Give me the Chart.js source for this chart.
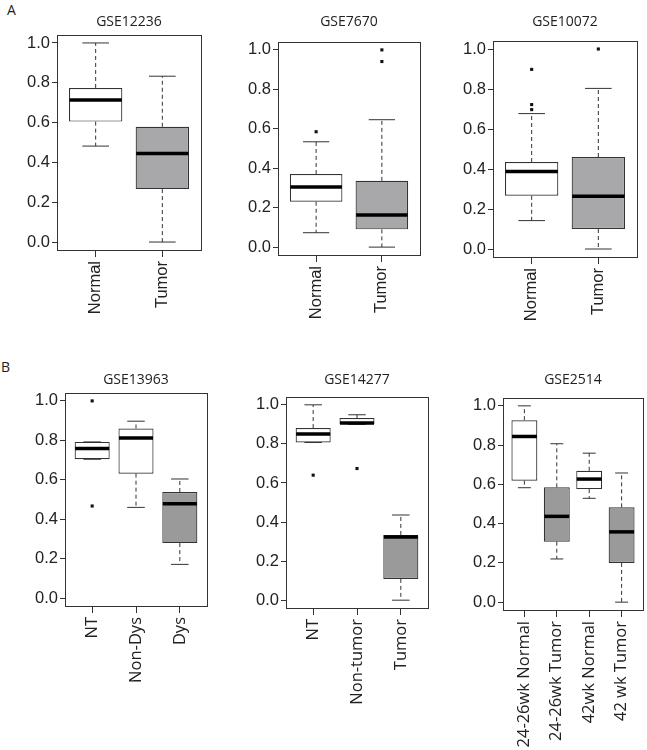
<!DOCTYPE html>
<html>
<head>
<meta charset="utf-8">
<script src="https://cdn.jsdelivr.net/npm/chart.js@4.4.0/dist/chart.umd.min.js"></script>
<style>
    body { margin: 0; background: #fff; }
    #fig { position: relative; width: 647px; height: 750px; overflow: hidden; background: #fff; }
    .panel { position: absolute; }
    .tag { position: absolute; font: 14px 'Open Sans'; line-height: 14px; color: #222; }
</style>
</head>
<body>
<div id="fig">
    <div class="tag" style="left:7px;top:3px">A</div>
    <div class="tag" style="left:1px;top:360px">B</div>
</div>
<script>
// Data (one entry per panel)
const titles = ['GSE12236', 'GSE7670', 'GSE10072', 'GSE13963', 'GSE14277', 'GSE2514'];
const categories = [
    ['Normal', 'Tumor'],
    ['Normal', 'Tumor'],
    ['Normal', 'Tumor'],
    ['NT', 'Non-Dys', 'Dys'],
    ['NT', 'Non-tumor', 'Tumor'],
    ['24-26wk Normal', '24-26wk Tumor', '42wk Normal', '42 wk Tumor']
];
const whiskerLow = [
    [0.482, 0.0], [0.073, 0.0], [0.142, 0.0],
    [0.704, 0.460, 0.171], [0.807, 0.900, 0.0], [0.583, 0.220, 0.529, 0.0]
];
const lowerQuartile = [
    [0.605, 0.266], [0.230, 0.090], [0.266, 0.100],
    [0.704, 0.631, 0.279], [0.807, 0.900, 0.109], [0.619, 0.308, 0.576, 0.200]
];
const medians = [
    [0.714, 0.445], [0.305, 0.163], [0.388, 0.264],
    [0.758, 0.812, 0.479], [0.851, 0.907, 0.324], [0.844, 0.437, 0.627, 0.358]
];
const upperQuartile = [
    [0.774, 0.579], [0.371, 0.336], [0.435, 0.460],
    [0.792, 0.860, 0.538], [0.881, 0.932, 0.334], [0.927, 0.585, 0.669, 0.483]
];
const whiskerHigh = [
    [1.0, 0.833], [0.534, 0.646], [0.677, 0.803],
    [0.792, 0.897, 0.604], [1.0, 0.949, 0.436], [1.0, 0.807, 0.759, 0.658]
];
// outliers as [category index, value]
const outliers = [
    [],
    [[0, 0.585], [1, 1.0], [1, 0.941]],
    [[0, 0.898], [0, 0.722], [0, 0.697], [1, 1.0]],
    [[0, 1.0], [0, 0.467]],
    [[0, 0.640], [1, 0.674]],
    []
];
const yTicks = [0, 0.2, 0.4, 0.6, 0.8, 1.0];

// styling / layout (not data)
const boxFills = [
    ['#ffffff', '#a8a8aa'], ['#ffffff', '#a8a8aa'], ['#ffffff', '#a8a8aa'],
    ['#ffffff', '#ffffff', '#9a9a9a'], ['#ffffff', '#ffffff', '#9a9a9a'],
    ['#ffffff', '#9a9a9a', '#ffffff', '#9a9a9a']
];
const labelFonts = ['Liberation Sans', 'Liberation Sans', 'Liberation Sans', 'Open Sans', 'Open Sans', 'Open Sans'];
// plot area: left, top, right, bottom, title centre y
const plotBoxes = [
    [57, 35, 201, 250, 22],
    [278, 42, 420, 255, 22],
    [493, 41, 637, 257, 22],
    [65, 393, 207, 606, 380],
    [286, 397, 428, 608, 380],
    [503, 398, 643, 610, 380]
];
const Y_AXIS_W = 57;
const X_AXIS_H = 140;
const RIGHT_PAD = 6;

const boxExtras = {
    id: 'boxExtras',
    afterDatasetsDraw(chart, args, opts) {
        const p = opts.panel;
        const ctx = chart.ctx;
        const ys = chart.scales.y;
        const bars = chart.getDatasetMeta(0).data;
        ctx.save();
        bars.forEach((bar, i) => {
            const x = bar.x;
            const half = bar.width / 2;
            const yLo = ys.getPixelForValue(whiskerLow[p][i]);
            const yQ1 = ys.getPixelForValue(lowerQuartile[p][i]);
            const yMed = ys.getPixelForValue(medians[p][i]);
            const yQ3 = ys.getPixelForValue(upperQuartile[p][i]);
            const yHi = ys.getPixelForValue(whiskerHigh[p][i]);

            // dashed whiskers
            ctx.strokeStyle = '#333';
            ctx.lineWidth = 1;
            ctx.setLineDash([4, 3]);
            ctx.beginPath();
            if (yHi < yQ3 - 1) { ctx.moveTo(x, yQ3); ctx.lineTo(x, yHi); }
            if (yLo > yQ1 + 1) { ctx.moveTo(x, yQ1); ctx.lineTo(x, yLo); }
            ctx.stroke();

            // staples
            ctx.setLineDash([]);
            ctx.beginPath();
            ctx.moveTo(x - half / 2, yHi); ctx.lineTo(x + half / 2, yHi);
            ctx.moveTo(x - half / 2, yLo); ctx.lineTo(x + half / 2, yLo);
            ctx.stroke();

            // median
            ctx.strokeStyle = '#000';
            ctx.lineWidth = 3.5;
            ctx.beginPath();
            ctx.moveTo(x - half + 0.5, yMed); ctx.lineTo(x + half - 0.5, yMed);
            ctx.stroke();
        });
        // frame around plot
        const a = chart.chartArea;
        ctx.strokeStyle = '#333';
        ctx.lineWidth = 1;
        ctx.strokeRect(Math.round(a.left) + 0.5, Math.round(a.top) + 0.5,
            Math.round(a.right - a.left), Math.round(a.bottom - a.top));
        ctx.restore();
    }
};

const fig = document.getElementById('fig');

titles.forEach((title, p) => {
    const [L, T, R, B, titleY] = plotBoxes[p];
    const cats = categories[p];
    const n = cats.length;
    const cLeft = L - Y_AXIS_W;
    const cTop = Math.round(titleY - 8.4);
    const w = R - cLeft + RIGHT_PAD;
    const h = (B - cTop) + X_AXIS_H;

    const wrap = document.createElement('div');
    wrap.className = 'panel';
    wrap.style.left = cLeft + 'px';
    wrap.style.top = cTop + 'px';
    const canvas = document.createElement('canvas');
    canvas.width = w;
    canvas.height = h;
    wrap.appendChild(canvas);
    fig.appendChild(wrap);

    new Chart(canvas, {
        type: 'bar',
        data: {
            datasets: [{
                type: 'bar',
                data: cats.map((c, i) => ({ x: i + 1, y: [lowerQuartile[p][i], upperQuartile[p][i]] })),
                backgroundColor: boxFills[p],
                borderColor: '#333',
                borderWidth: 1.2,
                borderSkipped: false,
                categoryPercentage: 1,
                barPercentage: 0.8
            }, {
                type: 'scatter',
                data: outliers[p].map(([k, v]) => ({ x: k + 1, y: v })),
                pointStyle: 'rect',
                pointRadius: 2.2,
                backgroundColor: '#111',
                borderColor: '#111',
                borderWidth: 0
            }]
        },
        options: {
            responsive: false,
            devicePixelRatio: 1,
            animation: false,
            events: [],
            layout: { padding: { left: 0, right: RIGHT_PAD, top: 0, bottom: 0 } },
            plugins: {
                legend: { display: false },
                tooltip: { enabled: false },
                title: {
                    display: true,
                    text: title,
                    fullSize: false,
                    color: '#222',
                    font: { family: 'Open Sans', size: 14, weight: 'normal' },
                    padding: { top: 0, bottom: T - cTop - 16.8 }
                },
                boxExtras: { panel: p }
            },
            scales: {
                x: {
                    type: 'linear',
                    min: 0.5 - 0.04 * n,
                    max: n + 0.5 + 0.04 * n,
                    offset: false,
                    afterBuildTicks: s => { s.ticks = cats.map((c, i) => ({ value: i + 1 })); },
                    afterFit: s => { s.height = X_AXIS_H; },
                    ticks: {
                        autoSkip: false,
                        minRotation: 90,
                        maxRotation: 90,
                        padding: 4,
                        color: '#222',
                        font: { family: labelFonts[p], size: 16.5 },
                        callback: v => cats[Math.round(v) - 1]
                    },
                    grid: { display: true, drawOnChartArea: false, drawTicks: true, tickLength: 7, color: '#333', offset: false },
                    border: { display: false }
                },
                y: {
                    type: 'linear',
                    min: -0.04,
                    max: 1.04,
                    afterBuildTicks: s => { s.ticks = yTicks.map(v => ({ value: v })); },
                    afterFit: s => { s.width = Y_AXIS_W; },
                    ticks: {
                        padding: 2,
                        color: '#222',
                        font: { family: 'Liberation Sans', size: 16.5 },
                        callback: v => v.toFixed(1)
                    },
                    grid: { drawOnChartArea: false, drawTicks: true, tickLength: 5, color: '#333' },
                    border: { display: false }
                }
            }
        },
        plugins: [boxExtras]
    });
});
</script>
</body>
</html>
